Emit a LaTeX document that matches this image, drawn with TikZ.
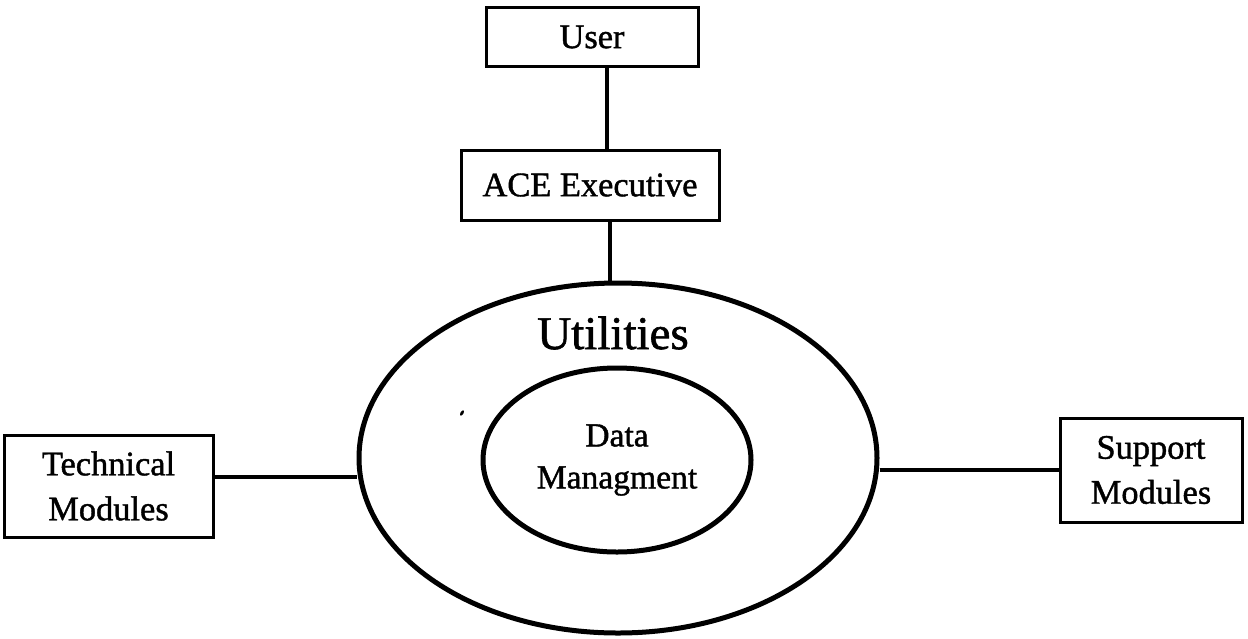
\documentclass[tikz,border=0pt]{standalone}
\usepackage{fontspec}
\setmainfont{Liberation Serif}
\newfontfamily\inkfont{Liberation Serif}[FakeBold=1.2]
\usetikzlibrary{shapes.geometric}

\tikzset{
  box/.style={draw, line width=1.5pt, rectangle, inner sep=0pt, align=center,
              font=\inkfont\fontsize{17.2}{22.5}\selectfont},
  ring/.style={draw, line width=2.5pt, ellipse, inner sep=0pt},
  link/.style={line width=2.3pt}
}

\begin{document}
\begin{tikzpicture}[x=0.5pt, y=-0.5pt]
  \useasboundingbox (0,0) rectangle (1248,638);

  % rings
  \node[ring, minimum width=259pt, minimum height=175pt] (outer) at (618,458) {};
  \node[ring, minimum width=134pt, minimum height=92pt, align=center,
        font=\inkfont\fontsize{16.8}{21}\selectfont] (inner) at (617,460) {Data\\Managment};
  \node[font=\inkfont\fontsize{23.5}{28}\selectfont] (util) at (613,333) {Utilities};

  % boxes
  \node[box, minimum width=106pt, minimum height=29.5pt] (user) at (592,37) {User};
  \node[box, minimum width=129pt, minimum height=35pt] (ace) at (590,185) {ACE Executive};
  \node[box, minimum width=104.5pt, minimum height=51pt] (tech) at (108.5,486) {Technical\\Modules};
  \node[box, minimum width=91pt, minimum height=52pt] (supp) at (1151,470) {Support\\Modules};

  % guide coordinates for the connectors
  \coordinate (vu) at (607,0);
  \coordinate (va) at (610,0);
  \coordinate (hl) at (0,477);
  \coordinate (hr) at (0,470);

  % connectors
  \draw[link] (user.south -| vu) -- (ace.north -| vu);
  \draw[link] (ace.south -| va) -- (outer.north -| va);
  \draw[link] (tech.east |- hl) -- (outer.west |- hl);
  \draw[link] (outer.east |- hr) -- (supp.west |- hr);

  % small ink speck
  \fill[rotate around={60:(462,413)}] (462,413) ellipse[x radius=3, y radius=1.5];
\end{tikzpicture}
\end{document}
